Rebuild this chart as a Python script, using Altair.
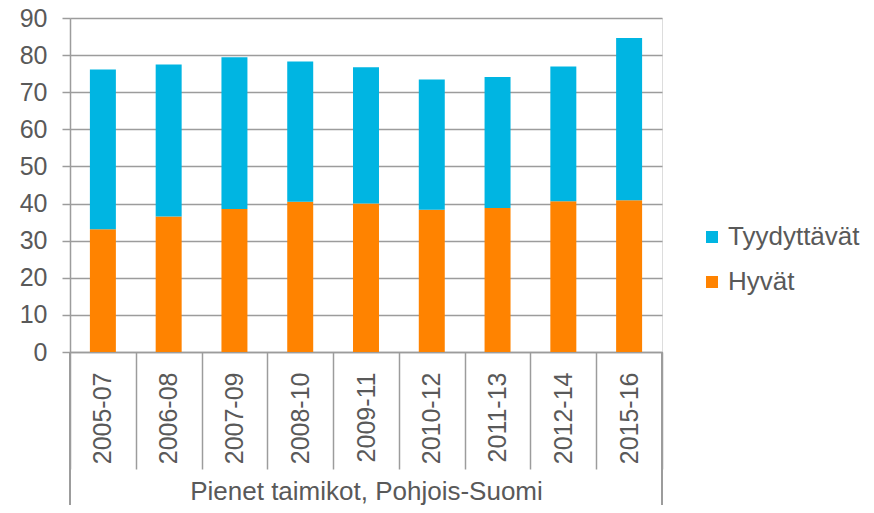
import altair as alt
import pandas as pd

categories = ["2005-07", "2006-08", "2007-09", "2008-10", "2009-11",
              "2010-12", "2011-13", "2012-14", "2015-16"]
hyvat = [33.1, 36.5, 38.5, 40.5, 40.0, 38.3, 38.8, 40.6, 40.9]
tyydyttavat = [43.0, 41.0, 40.9, 37.8, 36.7, 35.1, 35.3, 36.3, 43.7]
series = ["Tyydyttävät", "Hyvät"]
colors = ["#00B5E2", "#FF8300"]
group_label = "Pienet taimikot, Pohjois-Suomi"
y_ticks = [0, 10, 20, 30, 40, 50, 60, 70, 80, 90]

rows = []
for c, h, t in zip(categories, hyvat, tyydyttavat):
    rows.append({"kausi": c, "sarja": "Hyvät", "arvo": h, "jarj": 0})
    rows.append({"kausi": c, "sarja": "Tyydyttävät", "arvo": t, "jarj": 1})
df = pd.DataFrame(rows)

FONT = "Liberation Sans"
TXT = "#595959"
LINE = "#9C9C9C"
W, H = 592, 334
SEP = 117

bars = alt.Chart(df).mark_bar(width=alt.RelativeBandSize(0.395)).encode(
    x=alt.X("kausi:N", sort=categories,
            scale=alt.Scale(paddingInner=0, paddingOuter=0),
            axis=alt.Axis(title=group_label, labelAngle=270, labelFontSize=25,
                          labelColor=TXT, labelFont=FONT,
                          labelPadding=20 - SEP,
                          labelBaseline="middle", labelAlign="right",
                          ticks=True, tickBand="extent", tickSize=SEP,
                          tickColor=LINE, tickWidth=1.5,
                          domainColor=LINE, domainWidth=1.5,
                          titleFontSize=26, titleFont=FONT, titleColor=TXT,
                          titleFontWeight="normal", titleY=139,
                          titleBaseline="middle")),
    y=alt.Y("arvo:Q", stack="zero",
            scale=alt.Scale(domain=[0, 90], nice=False),
            axis=alt.Axis(title=None, values=y_ticks, grid=True,
                          gridColor=LINE, gridWidth=1.5, tickSize=8,
                          tickColor=LINE, tickWidth=1.5, domainColor=LINE,
                          domainWidth=1.5, labelFontSize=25, labelFont=FONT,
                          labelPadding=15, labelColor=TXT)),
    color=alt.Color("sarja:N", scale=alt.Scale(domain=series, range=colors),
                    legend=alt.Legend(title=None, orient="none", legendX=629,
                                      legendY=206, symbolType="square",
                                      symbolSize=144, symbolStrokeWidth=0,
                                      labelFontSize=26, labelFont=FONT,
                                      labelColor=TXT, rowPadding=19,
                                      labelOffset=3)),
    order=alt.Order("jarj:Q"),
)

left_edge = alt.Chart(df).mark_rule(color=LINE, strokeWidth=1.5).encode(
    x=alt.value(0), y=alt.value(H), y2=alt.value(500))
right_edge = alt.Chart(df).mark_rule(color=LINE, strokeWidth=1.5).encode(
    x=alt.value(W), y=alt.value(H), y2=alt.value(500))

chart = alt.layer(bars, left_edge, right_edge).properties(
    width=W, height=H,
    autosize=alt.AutoSizeParams(type="none"),
    padding={"left": 62, "top": 10, "right": 204, "bottom": 153},
).configure_view(stroke=None).configure(background="white")

chart.save("out.html", embed_options={"renderer": "svg", "actions": False})
